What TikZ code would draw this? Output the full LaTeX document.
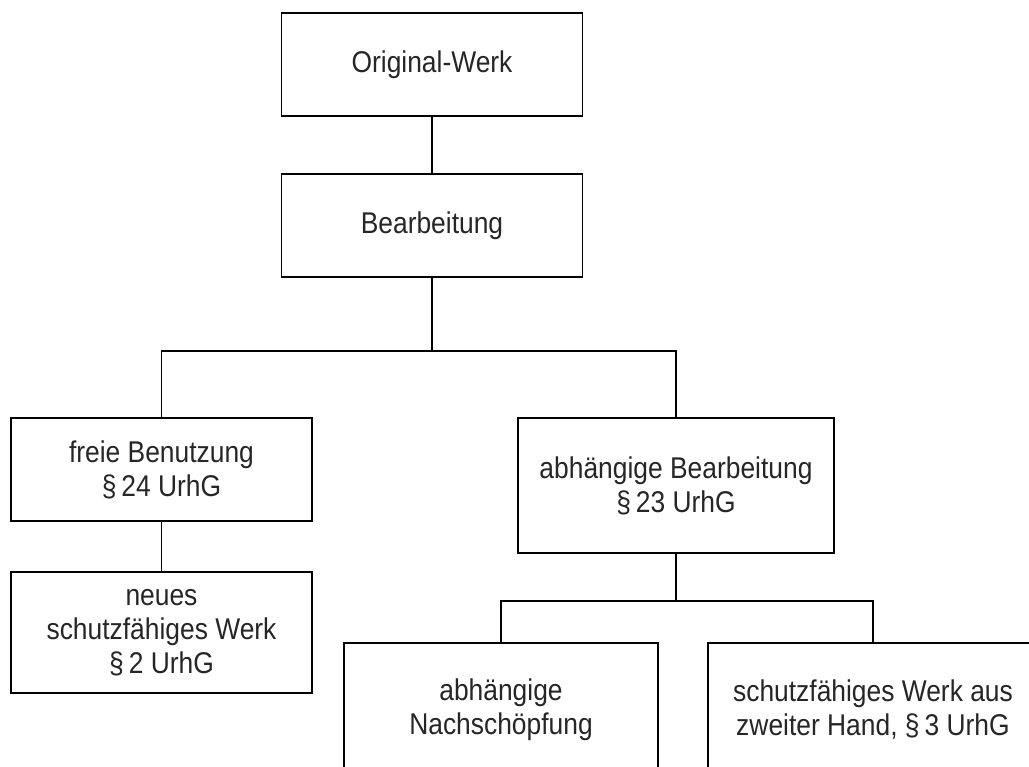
\documentclass[tikz,border=0pt]{standalone}
\usepackage{fontspec}
\setmainfont{Liberation Sans}[FakeStretch=0.88]
\begin{document}
\begin{tikzpicture}[x=1pt,y=-1pt,
  box/.style={draw=black,line width=1.6pt,rectangle,inner sep=0pt,align=center,
    font=\fontsize{30}{34}\selectfont,text=black!85},
  conn/.style={draw=black,line width=1.6pt}]
\useasboundingbox (0,0) rectangle (1029,767);
\clip (0,0) rectangle (1029,767);
\node[box,minimum width=301pt,minimum height=103pt] (orig) at (432,64.5) {Original-Werk};
\node[box,minimum width=301pt,minimum height=103pt] (bearb) at (432,225.5) {Bearbeitung};
\node[box,minimum width=301pt,minimum height=103pt] (freie) at (161.5,469.5) {freie Benutzung\\§\,24 UrhG};
\node[box,minimum width=301pt,minimum height=121pt] (neues) at (161.5,632.5) {neues\\schutzfähiges Werk\\§\,2 UrhG};
\node[box,minimum width=316pt,minimum height=135pt] (abh) at (676,485.5) {abhängige Bearbeitung\\§\,23 UrhG};
\node[box,minimum width=314pt,minimum height=134pt] (nach) at (501,710) {abhängige\\Nachschöpfung};
\node[box,minimum width=330pt,minimum height=134pt] (schutz) at (873,710) {schutzfähiges Werk aus\\zweiter Hand, §\,3 UrhG};
\coordinate (j1) at (432,351);
\coordinate (j2) at (676,601);
\draw[conn] (orig.south) -- (bearb.north);
\draw[conn] (bearb.south) -- (j1);
\draw[conn] (freie.north) |- (j1) -| (abh.north);
\draw[conn] (freie.south) -- (neues.north);
\draw[conn] (abh.south) -- (j2);
\draw[conn] (nach.north) |- (j2) -| (schutz.north);
\end{tikzpicture}
\end{document}
